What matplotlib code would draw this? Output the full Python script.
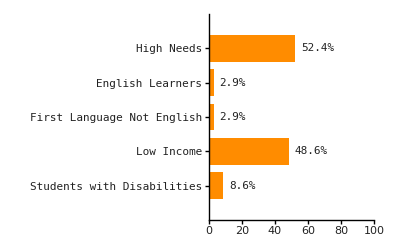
import matplotlib.pyplot as plt

categories = ["High Needs", "English Learners", "First Language Not English",
              "Low Income", "Students with Disabilities"]
values = [52.4, 2.9, 2.9, 48.6, 8.6]
xticks = [0, 20, 40, 60, 80, 100]

fig = plt.figure(figsize=(4, 2.5), dpi=100)
ax = fig.add_axes([0.5225, 0.12, 0.4125, 0.824])

pos = list(range(len(categories)))[::-1]
ax.barh(pos, values, height=0.78, color="#FF8C00")

for p, v in zip(pos, values):
    ax.text(v + 3.5, p, f"{v}%", va="center", ha="left",
            family="DejaVu Sans Mono", fontsize=7.9, color="#222222")

ax.set_xlim(0, 100)
ax.set_ylim(-1, 5)
ax.set_yticks(pos)
ax.set_yticklabels(categories, family="DejaVu Sans Mono", fontsize=7.9, color="#222222")
ax.set_xticks(xticks)
ax.set_xticklabels([str(t) for t in xticks], fontsize=8, color="#222222")

for s in ["top", "right"]:
    ax.spines[s].set_visible(False)
ax.spines["left"].set_linewidth(1)
ax.spines["bottom"].set_linewidth(1)
ax.tick_params(axis="y", length=3, width=1, pad=2)
ax.tick_params(axis="x", length=3, width=1, pad=1)

fig.savefig("out.png", dpi=100)
